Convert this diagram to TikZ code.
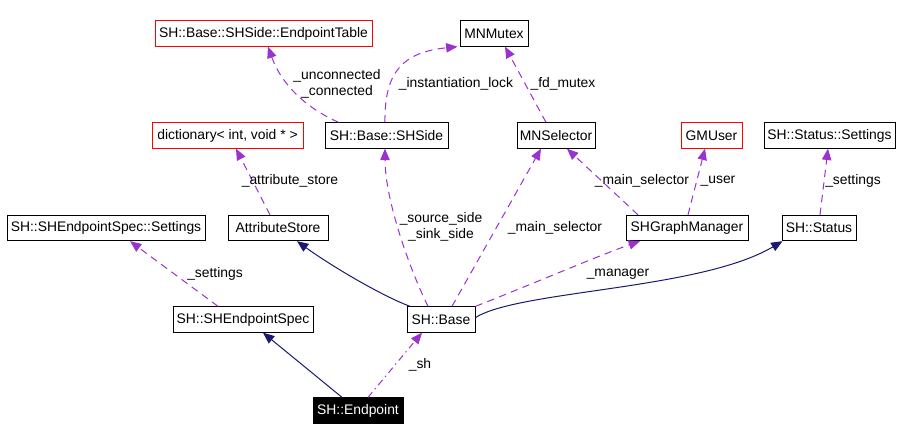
\documentclass[tikz,border=0pt]{standalone}
\usepackage{fontspec}
\setmainfont{Liberation Sans}
\usetikzlibrary{arrows.meta,calc}
\definecolor{edgepurple}{HTML}{9A32CD}
\definecolor{edgenavy}{HTML}{191970}
\begin{document}
\begin{tikzpicture}[x=0.75pt,y=-0.75pt,
  every node/.style={font=\fontsize{10.4}{12}\selectfont},
  box/.style={draw=black, line width=0.75pt, minimum height=19pt, inner sep=0pt, fill=white},
  redbox/.style={box, draw=red},
  blackbox/.style={box, fill=black, text=white},
  usage/.style={draw=edgepurple, line width=0.75pt, dash pattern=on 5.5pt off 4pt, -{Triangle[length=8.5pt,width=7pt]}},
  usagedot/.style={draw=edgepurple, line width=0.75pt, dash pattern=on 5pt off 3pt on 1pt off 3pt, -{Triangle[length=8.5pt,width=7pt]}},
  inherit/.style={draw=edgenavy, line width=0.75pt, -{Triangle[length=8.5pt,width=7pt]}},
  lbl/.style={inner sep=0pt, align=center}
]
\fill[white] (0,0) rectangle (904,440);
\useasboundingbox (0,0) rectangle (904,440);

% nodes
\node[redbox, minimum width=162.75pt] (table) at (263.5,33.5) {SH::Base::SHSide::EndpointTable};
\node[box, minimum width=51pt] (mutex) at (494,33.5) {MNMutex};
\node[redbox, minimum width=113.25pt] (dict) at (227.5,135.5) {dictionary< int, void * >};
\node[box, minimum width=92.25pt] (shside) at (386.5,135.5) {SH::Base::SHSide};
\node[box, minimum width=58.5pt] (mnsel) at (556,135.5) {MNSelector};
\node[redbox, minimum width=45.75pt] (gmuser) at (711.5,135.5) {GMUser};
\node[box, minimum width=98.25pt] (statset) at (829.5,135.5) {SH::Status::Settings};
\node[box, minimum width=148.5pt] (specset) at (106,228) {SH::SHEndpointSpec::Settings};
\node[box, minimum width=75pt] (attr) at (278,228) {AttributeStore};
\node[box, minimum width=91.5pt] (gm) at (687,228) {SHGraphManager};
\node[box, minimum width=55.5pt] (status) at (819,228) {SH::Status};
\node[box, minimum width=105pt] (spec) at (243,319.5) {SH::SHEndpointSpec};
\node[box, minimum width=51pt] (base) at (441,319.5) {SH::Base};
\node[blackbox, minimum width=67.5pt] (endpoint) at (358,410.5) {SH::Endpoint};

% edges
\draw[inherit] ($(endpoint.north)+(-16,0)$) -- ($(spec.south)+(20,0)$);
\draw[usagedot] ($(endpoint.north)+(10,0)$) -- ($(base.south)+(-19,0)$);
\node[lbl] (lsh) at (420,365) {\_sh};

\draw[usage] ($(spec.north)+(-25,0)$) -- ($(specset.south)+(24,0)$);
\node[lbl] (lspecset) at (215,274) {\_settings};

\draw[inherit] ($(base.north)+(-31,0)$) .. controls (380,295) and (330,265) .. ($(attr.south)+(19,0)$);

\draw[usage] ($(base.north)+(-13,0)$) .. controls (410,270) and (385,200) .. ($(shside.south)+(-1.5,0)$);
\node[lbl] (lside) at (441,227) {\_source\_side\\\_sink\_side};

\draw[usage] ($(base.north)+(11,0)$) -- ($(mnsel.south)+(-15,0)$);
\node[lbl] (lmainsel) at (555,228) {\_main\_selector};

\draw[usage] (base.north east) .. controls (530,285) and (600,255) .. ($(gm.south)+(-47,0)$);
\node[lbl] (lmanager) at (618,274) {\_manager};

\draw[inherit] ($(base.east)+(0,-2)$) .. controls (520,290) and (700,290) .. ($(status.south west)+(1,0)$);

\draw[usage] ($(attr.north)+(-8,0)$) -- ($(dict.south)+(8.5,0)$);
\node[lbl] (lattr) at (290,181) {\_attribute\_store};

\draw[usage] ($(shside.north)+(-48,0)$) .. controls (300,105) and (280,80) .. ($(table.south)+(4.5,0)$);
\node[lbl] (lconn) at (337,84) {\_unconnected\\\_connected};

\draw[usage] ($(shside.north)+(-1.5,0)$) .. controls (384,70) and (405,52) .. ($(mutex.south west)+(-2,0)$);
\node[lbl] (linst) at (456,84) {\_instantiation\_lock};

\draw[usage] ($(mnsel.north)+(-10,0)$) -- ($(mutex.south)+(11,0)$);
\node[lbl] (lfd) at (563,84) {\_fd\_mutex};

\draw[usage] ($(gm.north)+(-49,0)$) -- ($(mnsel.south)+(11,0)$);
\node[lbl] (lgmsel) at (642,181) {\_main\_selector};

\draw[usage] ($(gm.north)+(1,0)$) -- ($(gmuser.south)+(-6.5,0)$);
\node[lbl] (luser) at (718,181) {\_user};

\draw[usage] ($(status.north)+(1,0)$) -- ($(statset.south)+(-1.5,0)$);
\node[lbl] (lstatset) at (853,181) {\_settings};
\end{tikzpicture}
\end{document}
